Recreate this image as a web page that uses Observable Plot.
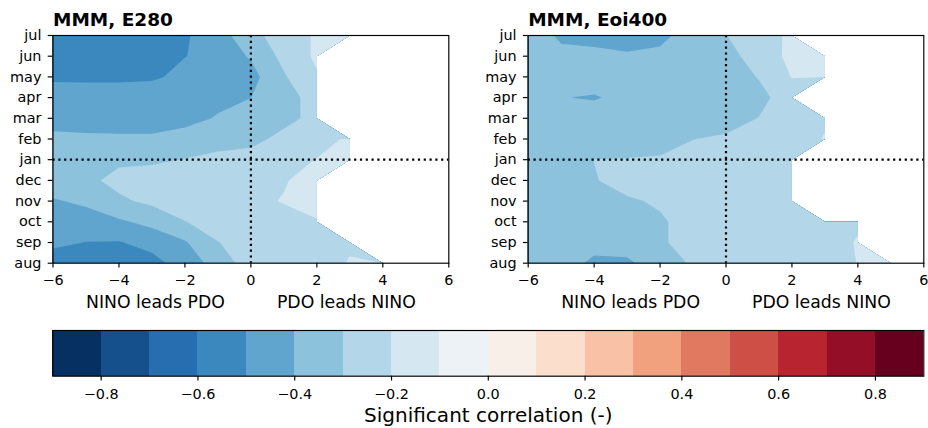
<!DOCTYPE html>
<html><head><meta charset="utf-8">
<script src="https://cdn.jsdelivr.net/npm/d3@7"></script>
<script src="https://cdn.jsdelivr.net/npm/@observablehq/plot@0.6"></script>
<style>
html,body{margin:0;padding:0;background:#fff;}
#chart{position:relative;width:928px;height:428px;background:#fff;}
#chart svg{position:absolute;overflow:visible;}
</style></head><body><div id="chart"></div>
<script>
// ---- data ----
const months = ["aug","sep","oct","nov","dec","jan","feb","mar","apr","may","jun","jul"];
const lags = [-6,-5,-4,-3,-2,-1,0,1,2,3,4,5,6];
const xTicks = [-6,-4,-2,0,2,4,6];
const levels = [-0.9,-0.8,-0.7,-0.6,-0.5,-0.4,-0.3,-0.2,-0.1,0,0.1,0.2,0.3,0.4,0.5,0.6,0.7,0.8,0.9];
const cbarTicks = [-0.8,-0.6,-0.4,-0.2,0,0.2,0.4,0.6,0.8];
const titles = ["MMM, E280","MMM, Eoi400"];
const xLabels = ["NINO leads PDO","PDO leads NINO"];
const cbarLabel = "Significant correlation (-)";
const N = NaN; // not significant (masked)
// rows: aug ... jul ; columns: lag -6 ... 6
const e280 = [
  [-0.55,-0.56,-0.56,-0.53,-0.46,-0.357,-0.25,-0.24,-0.23,-0.195,-0.15,N,N],
  [-0.48,-0.502,-0.505,-0.47,-0.41,-0.302,-0.27,-0.25,-0.23,-0.21,N,N,N],
  [-0.46,-0.45,-0.415,-0.37,-0.302,-0.27,-0.25,-0.23,-0.205,N,N,N,N],
  [-0.41,-0.38,-0.315,-0.28,-0.26,-0.24,-0.22,-0.195,-0.17,N,N,N,N],
  [-0.34,-0.32,-0.275,-0.27,-0.26,-0.25,-0.24,-0.207,-0.16,N,N,N,N],
  [-0.35,-0.33,-0.315,-0.31,-0.297,-0.28,-0.26,-0.235,-0.197,-0.16,N,N,N],
  [-0.37,-0.375,-0.38,-0.38,-0.35,-0.33,-0.33,-0.27,-0.24,-0.183,N,N,N],
  [-0.45,-0.46,-0.46,-0.46,-0.44,-0.39,-0.36,-0.33,-0.27,N,N,N,N],
  [-0.41,-0.42,-0.42,-0.42,-0.43,-0.43,-0.401,-0.33,-0.27,N,N,N,N],
  [-0.53,-0.53,-0.53,-0.52,-0.464,-0.45,-0.435,-0.31,-0.21,N,N,N,N],
  [-0.56,-0.57,-0.57,-0.55,-0.503,-0.46,-0.39,-0.272,-0.183,N,N,N,N],
  [-0.55,-0.56,-0.56,-0.55,-0.512,-0.44,-0.34,-0.237,-0.191,-0.15,N,N,N]
];
const eoi400 = [
  [-0.35,-0.333,-0.43,-0.42,-0.343,-0.29,-0.27,-0.26,-0.25,-0.24,-0.198,-0.16,N],
  [-0.36,-0.36,-0.349,-0.351,-0.31,-0.27,-0.26,-0.25,-0.24,-0.23,-0.195,N,N],
  [-0.37,-0.36,-0.36,-0.35,-0.31,-0.27,-0.26,-0.25,-0.24,-0.23,-0.21,N,N],
  [-0.37,-0.36,-0.34,-0.31,-0.29,-0.27,-0.25,-0.24,-0.23,N,N,N,N],
  [-0.37,-0.35,-0.305,-0.27,-0.26,-0.25,-0.24,-0.23,-0.22,N,N,N,N],
  [-0.37,-0.35,-0.299,-0.295,-0.29,-0.28,-0.27,-0.25,-0.23,N,N,N,N],
  [-0.37,-0.37,-0.36,-0.36,-0.34,-0.301,-0.29,-0.27,-0.24,-0.195,N,N,N],
  [-0.37,-0.37,-0.339,-0.36,-0.36,-0.35,-0.33,-0.298,-0.25,-0.21,N,N,N],
  [-0.36,-0.396,-0.41,-0.368,-0.37,-0.37,-0.36,-0.32,-0.263,N,N,N,N],
  [-0.35,-0.36,-0.343,-0.36,-0.37,-0.36,-0.34,-0.296,-0.196,-0.16,N,N,N],
  [-0.35,-0.37,-0.376,-0.392,-0.387,-0.37,-0.33,-0.262,-0.173,-0.15,N,N,N],
  [-0.33,-0.42,-0.43,-0.43,-0.415,-0.373,-0.302,-0.25,-0.179,N,N,N,N]
];
const rdbu = ["#053061","#2166ac","#4393c3","#92c5de","#d1e5f0","#f7f7f7","#fddbc7","#f4a582","#d6604d","#b2182b","#67001f"];

// ---- styling ----
const nBins = levels.length - 1;
const interp = d3.piecewise(d3.interpolateRgb, rdbu);
const binColors = d3.range(nBins).map(k => interp(k / (nBins - 1)));
const colorScale = {type: "threshold", domain: levels.slice(1, -1), range: binColors};
const FONT = "DejaVu Sans";
const fmtInt = d => (d < 0 ? "\u2212" : "") + Math.abs(d);
const dotted = {stroke: "black", strokeWidth: 2.2, strokeDasharray: "2.2,3.6"};
// masked (non-significant) cells: pushed far below every contour level so
// that no band is drawn there and band edges stop at the last valid cell
const MASK = -1e9;

function panel(grid, title, ml, mr) {
  const values = grid.flat().map(v => Number.isNaN(v) ? MASK : v);
  return Plot.plot({
    width: 464, height: 310,
    marginTop: 35, marginBottom: 47.3, marginLeft: ml, marginRight: mr,
    style: {fontFamily: FONT, fontSize: "14.4px", background: "transparent", color: "black", overflow: "visible"},
    x: {domain: [lags[0], lags[lags.length - 1]]},
    y: {domain: [0, months.length - 1]},
    color: colorScale,
    marks: [
      Plot.contour(values, {
        width: lags.length, height: months.length,
        x1: lags[0] - 0.5, x2: lags[lags.length - 1] + 0.5,
        y1: -0.5, y2: months.length - 0.5,
        thresholds: levels.slice(0, -1),
        fill: Plot.identity, stroke: "none", clip: true
      }),
      Plot.ruleX([0], dotted),
      Plot.ruleY([months.indexOf("jan")], dotted),
      Plot.frame({stroke: "black", strokeWidth: 1.16}),
      Plot.axisX({ticks: xTicks, tickFormat: fmtInt, tickSize: 4.8, tickPadding: 7.2, label: null, strokeWidth: 1.16}),
      Plot.axisY({ticks: d3.range(months.length), tickFormat: i => months[i], tickSize: 4.8, tickPadding: 6.8, label: null, strokeWidth: 1.16}),
      Plot.text([title], {frameAnchor: "top-left", dy: -9.5, lineAnchor: "bottom", textAnchor: "start", fontWeight: "bold", fontSize: 18.5}),
      Plot.text([xLabels[0]], {frameAnchor: "bottom", dx: -26, dy: 44.6, lineAnchor: "bottom", textAnchor: "end", fontSize: 17.3}),
      Plot.text([xLabels[1]], {frameAnchor: "bottom", dx: 26, dy: 44.6, lineAnchor: "bottom", textAnchor: "start", fontSize: 17.3})
    ]
  });
}

const chart = document.getElementById("chart");
const p1 = panel(e280, titles[0], 52.5, 15.7);
p1.style.left = "0px"; p1.style.top = "0px";
const p2 = panel(eoi400, titles[1], 63.7, 4.7);
p2.style.left = "464px"; p2.style.top = "0px";

const bins = d3.pairs(levels).map(([lo, hi]) => ({lo, hi}));
const cbar = Plot.plot({
  width: 928, height: 118,
  marginTop: 20, marginBottom: 52.3, marginLeft: 52.3, marginRight: 4.7,
  style: {fontFamily: FONT, fontSize: "14.4px", background: "transparent", color: "black", overflow: "visible"},
  x: {domain: [levels[0], levels[levels.length - 1]]},
  color: colorScale,
  marks: [
    Plot.rect(bins, {x1: "lo", x2: "hi", fill: "lo", shapeRendering: "crispEdges"}),
    Plot.frame({stroke: "black", strokeWidth: 1.16}),
    Plot.axisX({ticks: cbarTicks, tickFormat: d3.format(".1f"), tickSize: 4.8, tickPadding: 7.4, label: null, strokeWidth: 1.16}),
    Plot.text([cbarLabel], {frameAnchor: "bottom", dy: 45.3, lineAnchor: "bottom", fontSize: 20})
  ]
});
cbar.style.left = "0px"; cbar.style.top = "310px";

chart.append(p1, p2, cbar);
</script></body></html>
